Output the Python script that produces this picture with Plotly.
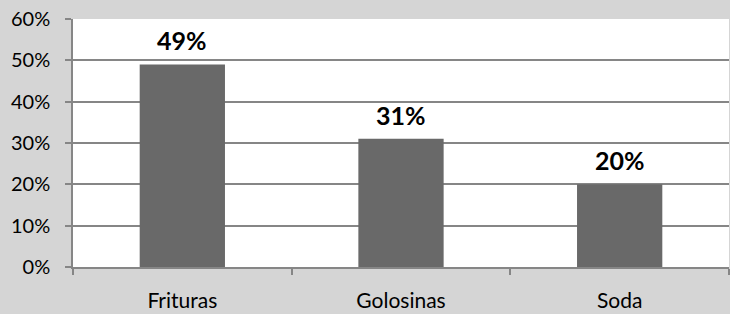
import plotly.graph_objects as go

categories = ["Frituras", "Golosinas", "Soda"]
values = [49, 31, 20]
labels = ["49%", "31%", "20%"]
yticks = [0, 10, 20, 30, 40, 50, 60]
yticklabels = ["0%", "10%", "20%", "30%", "40%", "50%", "60%"]

fig = go.Figure(go.Bar(
    x=categories, y=values,
    marker=dict(color="#696969", line=dict(width=0)),
    width=0.39, hoverinfo="skip",
))

for c, v, t in zip(categories, values, labels):
    fig.add_annotation(
        x=c, y=v, text=t, showarrow=False, yanchor="bottom", yshift=7,
        font=dict(family="Lato", size=25, color="#000000", weight="bold"),
    )

fig.update_layout(
    width=730, height=314,
    margin=dict(l=73, r=1, t=19, b=47, autoexpand=False),
    paper_bgcolor="#d5d5d5", plot_bgcolor="#ffffff",
    showlegend=False,
    font=dict(family="Lato", size=20, color="#000000"),
)
fig.update_yaxes(
    range=[0, 60], tickvals=yticks, ticktext=yticklabels,
    showgrid=True, gridcolor="#868686", gridwidth=1.5,
    showline=True, linecolor="#868686", linewidth=1.5,
    ticks="outside", ticklen=6, tickcolor="#868686", tickwidth=1.5,
    zeroline=False, ticklabelstandoff=11, automargin=False,
)
fig.update_xaxes(
    showline=True, linecolor="#868686", linewidth=1.5,
    ticks="outside", ticklen=6, tickcolor="#868686", tickwidth=1.5,
    tickson="boundaries", showgrid=False,
    ticklabelstandoff=14, automargin=False,
    tickfont=dict(size=21),
)

fig.write_html(
    "out.html",
    config={"displayModeBar": False},
    post_script="document.body.style.margin='0';document.body.style.padding='0';",
)
